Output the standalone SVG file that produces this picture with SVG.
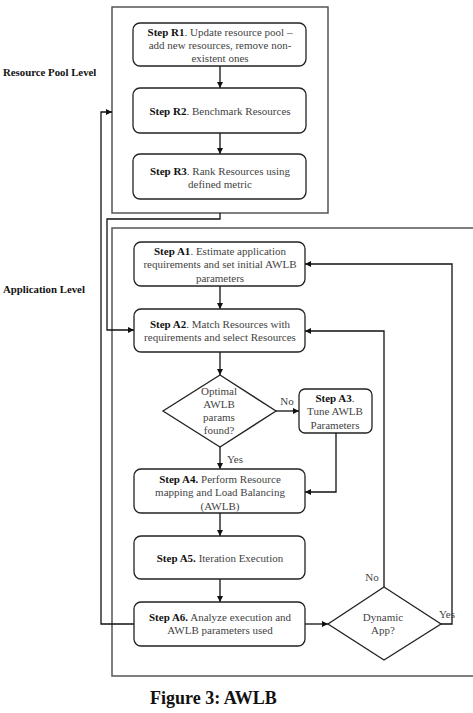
<svg xmlns="http://www.w3.org/2000/svg" width="473" height="713" viewBox="0 0 473 713">
<style>
  .frame{fill:none;stroke:#555;stroke-width:1.5}
  .box{fill:#fff;stroke:#222;stroke-width:1.3}
  .t{font-family:"Liberation Serif","Times New Roman",serif;font-size:11px;fill:#444;text-anchor:middle}
  .b{font-weight:bold;fill:#111}
  .lbl{font-family:"Liberation Serif","Times New Roman",serif;font-size:10.8px;font-weight:bold;fill:#111}
  .cap{font-family:"Liberation Serif","Times New Roman",serif;font-size:18px;font-weight:bold;fill:#111}
  .c{fill:none;stroke:#111;stroke-width:1.3}
</style>
<defs>
  <marker id="ah" viewBox="0 0 10 10" refX="10" refY="5" markerWidth="6" markerHeight="6" orient="auto" markerUnits="userSpaceOnUse">
    <path d="M0,0 L10,5 L0,10 z" fill="#111"/>
  </marker>
</defs>
<rect width="473" height="713" fill="#fff"/>

<g id="frames">
  <rect class="frame" x="112" y="7" width="216" height="206"/>
  <rect class="frame" x="112" y="228" width="370" height="448"/>
</g>

<g id="labels">
  <text class="lbl" x="3" y="76">Resource Pool Level</text>
  <text class="lbl" x="3" y="293">Application Level</text>
</g>

<g id="connectors">
  <path class="c" d="M220,66 V88" marker-end="url(#ah)"/>
  <path class="c" d="M220,133 V154" marker-end="url(#ah)"/>
  <path class="c" d="M220,213 V219 H107 V330 H134" marker-end="url(#ah)"/>
  <path class="c" d="M134,624 H101 V112 H112" marker-end="url(#ah)"/>
  <path class="c" d="M220,286 V309" marker-end="url(#ah)"/>
  <path class="c" d="M220,352 V375" marker-end="url(#ah)"/>
  <path class="c" d="M276,411 H299" marker-end="url(#ah)"/>
  <path class="c" d="M336,433 V492 H305" marker-end="url(#ah)"/>
  <path class="c" d="M220,447 V469" marker-end="url(#ah)"/>
  <path class="c" d="M220,513 V536" marker-end="url(#ah)"/>
  <path class="c" d="M220,579 V602" marker-end="url(#ah)"/>
  <path class="c" d="M305,624 H328" marker-end="url(#ah)"/>
  <path class="c" d="M384,587 V331 H305" marker-end="url(#ah)"/>
  <path class="c" d="M441,624 H452 V264 H305" marker-end="url(#ah)"/>
  <text class="t" x="287" y="405">No</text>
  <text class="t" x="235" y="463">Yes</text>
  <text class="t" x="372" y="581">No</text>
  <text class="t" x="447" y="618">Yes</text>
</g>

<g id="R1">
  <rect class="box" x="133" y="23" width="173" height="43" rx="7"/>
  <text class="t" x="220" y="35.5"><tspan class="b">Step R1</tspan>. Update resource pool –</text>
  <text class="t" x="220" y="48.5">add new resources, remove non-</text>
  <text class="t" x="220" y="61.5">existent ones</text>
</g>
<g id="R2">
  <rect class="box" x="133" y="88" width="173" height="45" rx="7"/>
  <text class="t" x="220" y="114.5"><tspan class="b">Step R2</tspan>. Benchmark Resources</text>
</g>
<g id="R3">
  <rect class="box" x="133" y="154" width="173" height="45" rx="7"/>
  <text class="t" x="220" y="174.5"><tspan class="b">Step R3</tspan>. Rank Resources using</text>
  <text class="t" x="220" y="187.5">defined metric</text>
</g>

<g id="A1">
  <rect class="box" x="134" y="242" width="171" height="44" rx="7"/>
  <text class="t" x="220" y="254.5"><tspan class="b">Step A1</tspan>. Estimate application</text>
  <text class="t" x="220" y="268">requirements and set initial AWLB</text>
  <text class="t" x="220" y="281.5">parameters</text>
</g>
<g id="A2">
  <rect class="box" x="134" y="309" width="171" height="43" rx="7"/>
  <text class="t" x="220" y="327.5"><tspan class="b">Step A2</tspan>. Match Resources with</text>
  <text class="t" x="220" y="341">requirements and select Resources</text>
</g>
<g id="D1">
  <polygon class="box" points="220,375 276,411 220,447 163,411"/>
  <text class="t" x="219" y="395">Optimal</text>
  <text class="t" x="219" y="408">AWLB</text>
  <text class="t" x="219" y="421">params</text>
  <text class="t" x="219" y="434">found?</text>
</g>
<g id="A3">
  <rect class="box" x="299" y="389" width="73" height="44" rx="6"/>
  <text class="t" x="335" y="401.5"><tspan class="b">Step A3</tspan>.</text>
  <text class="t" x="335" y="415">Tune AWLB</text>
  <text class="t" x="335" y="428.5">Parameters</text>
</g>
<g id="A4">
  <rect class="box" x="134" y="469" width="171" height="44" rx="7"/>
  <text class="t" x="220" y="482.5"><tspan class="b">Step A4.</tspan> Perform Resource</text>
  <text class="t" x="220" y="496">mapping and Load Balancing</text>
  <text class="t" x="220" y="509.5">(AWLB)</text>
</g>
<g id="A5">
  <rect class="box" x="134" y="536" width="171" height="43" rx="7"/>
  <text class="t" x="220" y="561.5"><tspan class="b">Step A5.</tspan> Iteration Execution</text>
</g>
<g id="A6">
  <rect class="box" x="134" y="602" width="171" height="44" rx="7"/>
  <text class="t" x="220" y="620.5"><tspan class="b">Step A6.</tspan> Analyze execution and</text>
  <text class="t" x="220" y="634">AWLB parameters used</text>
</g>
<g id="D2">
  <polygon class="box" points="384,587 441,624 384,660 328,624"/>
  <text class="t" x="383" y="620.5">Dynamic</text>
  <text class="t" x="383" y="633.5">App?</text>
</g>

<text class="cap" x="150" y="704">Figure 3: AWLB</text>
</svg>
